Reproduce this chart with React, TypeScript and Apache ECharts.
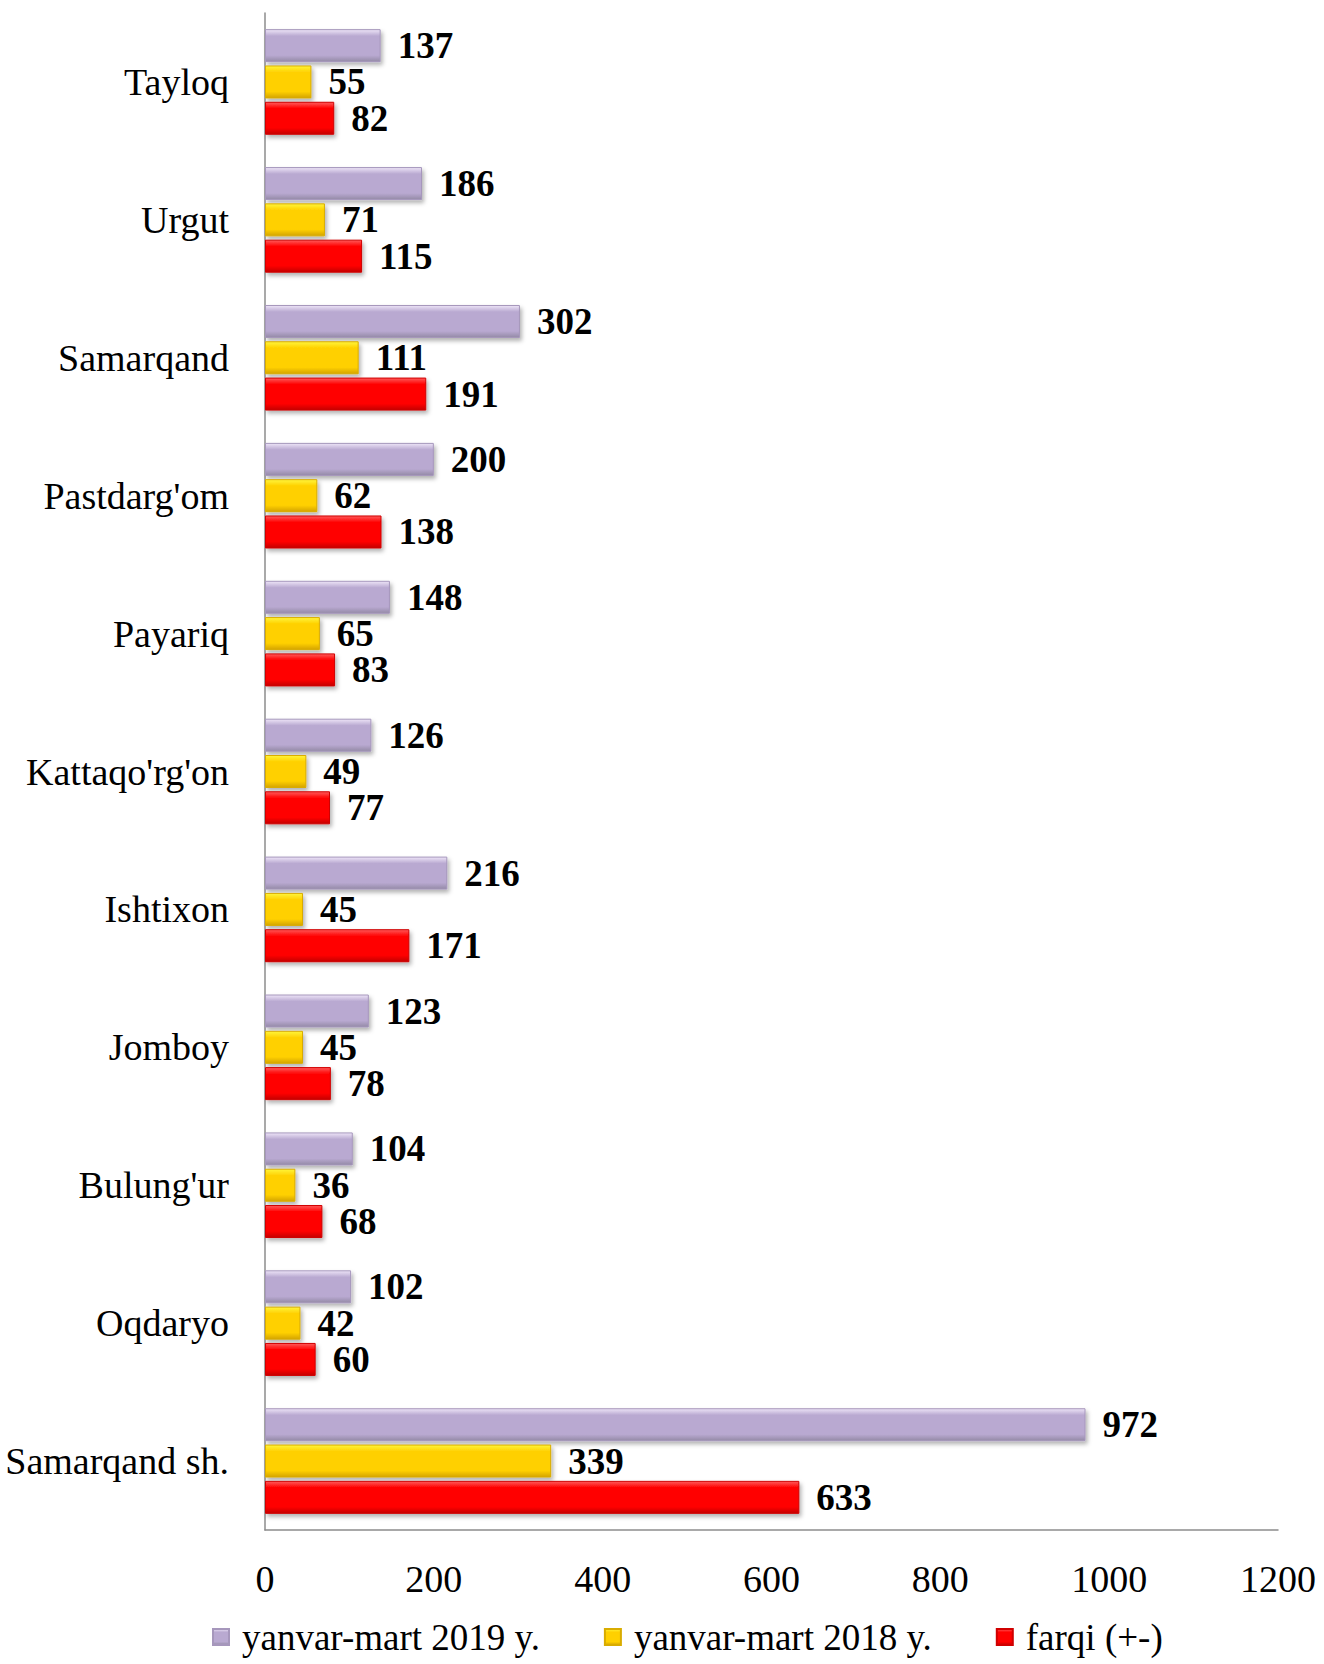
import React, { useEffect, useRef } from "react";
import * as echarts from "echarts";

const categories = [
  "Tayloq",
  "Urgut",
  "Samarqand",
  "Pastdarg'om",
  "Payariq",
  "Kattaqo'rg'on",
  "Ishtixon",
  "Jomboy",
  "Bulung'ur",
  "Oqdaryo",
  "Samarqand sh.",
];
const seriesNames = ["yanvar-mart 2019 y.", "yanvar-mart 2018 y.", "farqi (+-)"];
const values2019 = [137, 186, 302, 200, 148, 126, 216, 123, 104, 102, 972];
const values2018 = [55, 71, 111, 62, 65, 49, 45, 45, 36, 42, 339];
const valuesDiff = [82, 115, 191, 138, 83, 77, 171, 78, 68, 60, 633];
const xTicks = { min: 0, max: 1200, interval: 200 };

const FONT = "'Liberation Serif', 'Times New Roman', serif";

function grad(top: string, mid: string, bottom: string) {
  return new echarts.graphic.LinearGradient(0, 0, 0, 1, [
    { offset: 0, color: top },
    { offset: 0.2, color: mid },
    { offset: 0.8, color: mid },
    { offset: 1, color: bottom },
  ]);
}

const colors = [
  { fill: grad("#EDE4F7", "#B9A9D1", "#948AA6"), border: "#A697BC" },
  { fill: grad("#FFF53A", "#FFD000", "#D4A400"), border: "#D9AC00" },
  { fill: grad("#FF5A5A", "#FF0000", "#C40000"), border: "#D00000" },
];

export default function App() {
  const ref = useRef<HTMLDivElement>(null);
  useEffect(() => {
    if (!ref.current) return;
    const chart = echarts.init(ref.current, undefined, { renderer: "svg" });
    const data = [values2019, values2018, valuesDiff];
    chart.setOption({
      animation: false,
      backgroundColor: "#ffffff",
      grid: { left: 265, right: 46, top: 13, bottom: 134, containLabel: false },
      legend: {
        left: 212,
        top: 1617,
        padding: 0,
        itemWidth: 16,
        itemHeight: 16,
        itemGap: 64,
        textStyle: {
          fontFamily: FONT,
          fontSize: 37,
          lineHeight: 40,
          color: "#000",
          padding: [0, 0, 0, 8],
        },
        data: seriesNames.map((n) => ({ name: n, icon: "rect" })),
      },
      xAxis: {
        type: "value",
        min: xTicks.min,
        max: xTicks.max,
        interval: xTicks.interval,
        splitLine: { show: false },
        axisLine: { show: true, lineStyle: { color: "#8c8c8c", width: 1.5 } },
        axisTick: { show: false },
        axisLabel: {
          margin: 30,
          fontFamily: FONT,
          fontSize: 38,
          color: "#000",
          formatter: (v: number) => String(v),
        },
      },
      yAxis: {
        type: "category",
        inverse: true,
        data: categories,
        axisLine: { show: true, lineStyle: { color: "#8c8c8c", width: 1.5 } },
        axisTick: { show: false },
        axisLabel: {
          margin: 36,
          fontFamily: FONT,
          fontSize: 38,
          color: "#000",
        },
      },
      series: seriesNames.map((name, i) => ({
        name,
        type: "bar",
        data: data[i],
        barWidth: 33,
        barGap: "10%",
        barCategoryGap: "20%",
        itemStyle: {
          color: colors[i].fill,
          borderColor: colors[i].border,
          borderWidth: 1,
          shadowColor: "rgba(0,0,0,0.3)",
          shadowBlur: 4,
          shadowOffsetX: 2,
          shadowOffsetY: 3,
        },
        label: {
          show: true,
          position: "right",
          distance: 17,
          fontFamily: FONT,
          fontWeight: "bold",
          fontSize: 37,
          color: "#000",
        },
      })),
    });
    return () => chart.dispose();
  }, []);
  return (
    <div
      ref={ref}
      style={{ position: "absolute", left: 0, top: 0, width: 1324, height: 1664 }}
    />
  );
}
